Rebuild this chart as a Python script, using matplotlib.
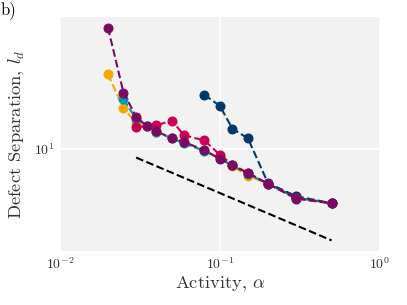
import matplotlib
matplotlib.use("Agg")
import matplotlib.pyplot as plt
from matplotlib.ticker import NullFormatter

plt.rcParams['font.family'] = 'cmr10'
plt.rcParams['mathtext.fontset'] = 'cm'
plt.rcParams['axes.formatter.use_mathtext'] = True
plt.rcParams['axes.unicode_minus'] = False

# activity values and defect separation per run
alpha_yellow = [0.02, 0.025, 0.03, 0.035, 0.04, 0.05, 0.06, 0.08, 0.1, 0.12, 0.15, 0.2, 0.3, 0.5]
ld_yellow = [35.4, 19.8, 15.5, 14.6, 13.3, 12.0, 11.0, 9.7, 8.5, 7.4, 6.3, 5.5, 4.3, 3.95]

alpha_teal = [0.025, 0.03, 0.035, 0.04, 0.05, 0.06, 0.08, 0.1, 0.12, 0.15, 0.2, 0.3, 0.5]
ld_teal = [23.2, 16.5, 14.6, 13.3, 11.9, 10.9, 9.6, 8.5, 7.5, 6.5, 5.5, 4.35, 3.95]

alpha_navy = [0.08, 0.1, 0.12, 0.15, 0.2, 0.3, 0.5]
ld_navy = [24.9, 20.7, 14.0, 11.9, 5.56, 4.45, 3.95]

alpha_red = [0.03, 0.04, 0.05, 0.06, 0.08, 0.1, 0.12, 0.15, 0.2, 0.3, 0.5]
ld_red = [14.4, 14.8, 16.1, 12.5, 11.5, 9.0, 7.6, 6.6, 5.5, 4.3, 3.95]

alpha_purple = [0.02, 0.025, 0.03, 0.035, 0.04, 0.05, 0.06, 0.08, 0.1, 0.12, 0.15, 0.2, 0.3, 0.5]
ld_purple = [78.0, 25.9, 17.2, 14.6, 13.4, 12.0, 11.2, 9.7, 8.4, 7.5, 6.6, 5.5, 4.27, 3.94]

# reference slope line
alpha_ref = [0.03, 0.5]
ld_ref = [8.58, 2.10]

fig = plt.figure(figsize=(4.07, 3.05), dpi=100)
ax = fig.add_axes([0.147, 0.177, 0.786, 0.767])
ax.set_facecolor('#f2f2f2')
for s in ax.spines.values():
    s.set_visible(False)

series = [
    (alpha_yellow, ld_yellow, '#f5a800'),
    (alpha_teal, ld_teal, '#0098b0'),
    (alpha_navy, ld_navy, '#003a6b'),
    (alpha_red, ld_red, '#cc0052'),
    (alpha_purple, ld_purple, '#7b0a63'),
]
for a, l, c in series:
    ax.plot(a, l, '--o', color=c, lw=1.5, ms=6.2)

ax.plot(alpha_ref, ld_ref, '--', color='black', lw=1.5)

ax.set_xscale('log')
ax.set_yscale('log')
ax.set_xlim(0.01, 1)
ax.yaxis.set_minor_formatter(NullFormatter())
ax.xaxis.set_minor_formatter(NullFormatter())
ax.tick_params(which='both', length=0, labelsize=10, colors='#333333')
ax.grid(True, which='major', color='white', lw=1.2)
ax.set_axisbelow(True)

ax.set_xlabel(r'Activity, $\alpha$', fontsize=13.3, color='#333333', labelpad=2)
ax.set_ylabel(r'Defect Separation, $l_d$', fontsize=13.3, color='#333333', labelpad=6)
fig.text(0.002, 0.995, 'b)', fontsize=12, va='top', ha='left')

plt.savefig('out.png', dpi=100)
